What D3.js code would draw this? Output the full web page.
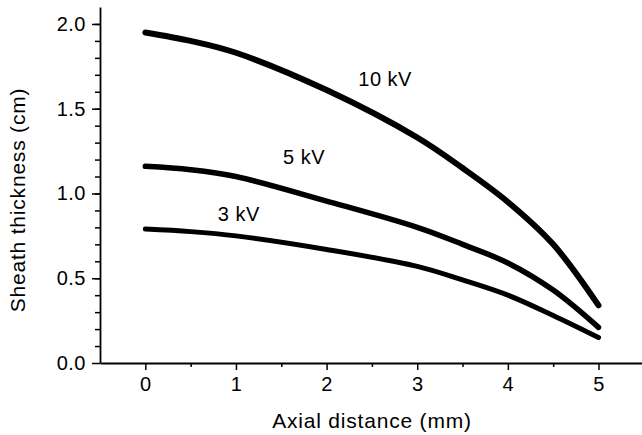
<!DOCTYPE html>
<html>
<head>
<meta charset="utf-8">
<script src="https://cdn.jsdelivr.net/npm/d3@7"></script>
<style>
  body { margin: 0; background: #fff; }
  svg { display: block; font-family: "Liberation Sans", Arial, sans-serif; }
</style>
</head>
<body>
<div id="chart"></div>
<script>
// axial distance (mm)
var distance = [0, 0.5, 1, 2, 3, 3.5, 4, 4.5, 5];
// sheath thickness (cm) for each voltage
var kv10 = [1.95, 1.90, 1.83, 1.61, 1.33, 1.15, 0.95, 0.70, 0.34];
var kv5  = [1.16, 1.14, 1.10, 0.955, 0.80, 0.70, 0.59, 0.43, 0.21];
var kv3  = [0.79, 0.775, 0.75, 0.67, 0.57, 0.49, 0.40, 0.28, 0.15];
var seriesNames = ["10 kV", "5 kV", "3 kV"];
var xMajor = [0, 1, 2, 3, 4, 5];
var xMinor = [0.5, 1.5, 2.5, 3.5, 4.5];
var yMajor = [0, 0.5, 1.0, 1.5, 2.0];

var width = 642,
    height = 435;

var svg = d3.select("#chart").append("svg")
    .attr("width", width)
    .attr("height", height);

var x = d3.scaleLinear().domain([-0.5, 5.48]).range([100, 642]);
var y = d3.scaleLinear().domain([0, 2.1]).range([363, 7]);

// minor ticks first
svg.append("g")
    .attr("transform", "translate(100,0)")
    .call(d3.axisLeft(y).tickValues(d3.range(1, 21).map(function(i) { return i / 10; }))
        .tickSize(5).tickFormat(""))
    .call(function(g) { g.select(".domain").remove(); })
    .selectAll("line").attr("stroke-width", 1.5);

svg.append("g")
    .attr("transform", "translate(0,363)")
    .call(d3.axisBottom(x).tickValues(xMinor).tickSize(4).tickFormat(""))
    .call(function(g) { g.select(".domain").remove(); })
    .selectAll("line").attr("stroke-width", 1.5);

// major axes
var yAxis = svg.append("g")
    .attr("transform", "translate(100,0)")
    .call(d3.axisLeft(y).tickValues(yMajor).tickSize(8).tickSizeOuter(0)
        .tickPadding(6).tickFormat(d3.format(".1f")));

var xAxis = svg.append("g")
    .attr("transform", "translate(0,363)")
    .call(d3.axisBottom(x).tickValues(xMajor).tickSize(7).tickSizeOuter(0)
        .tickPadding(7).tickFormat(d3.format("d")));

[yAxis, xAxis].forEach(function(g) {
    g.select(".domain").attr("stroke-width", 1.8);
    g.selectAll("line").attr("stroke-width", 1.5);
    g.selectAll("text").attr("font-size", 20).attr("fill", "#000")
        .attr("letter-spacing", 0.5)
        .attr("font-family", "Liberation Sans, Arial, sans-serif");
});

// axis titles
svg.append("text")
    .attr("x", 372)
    .attr("y", 428)
    .attr("text-anchor", "middle")
    .attr("font-size", 21)
    .attr("letter-spacing", 0.8)
    .text("Axial distance (mm)");

svg.append("text")
    .attr("transform", "translate(25,200)rotate(-90)")
    .attr("text-anchor", "middle")
    .attr("font-size", 21)
    .attr("letter-spacing", 0.8)
    .text("Sheath thickness (cm)");

// curves
var line = d3.line()
    .x(function(d) { return x(d[0]); })
    .y(function(d) { return y(d[1]); })
    .curve(d3.curveCatmullRom);

var series = [kv10, kv5, kv3];
var widths = [6, 5.5, 5];

series.forEach(function(vals, i) {
    svg.append("path")
        .datum(distance.map(function(d, j) { return [d, vals[j]]; }))
        .attr("d", line)
        .attr("fill", "none")
        .attr("stroke", "#000")
        .attr("stroke-width", widths[i])
        .attr("stroke-linecap", "round");
});

// curve labels
var labelPos = [[2.35, 1.634], [1.52, 1.174], [0.80, 0.838]];
seriesNames.forEach(function(name, i) {
    svg.append("text")
        .attr("x", x(labelPos[i][0]))
        .attr("y", y(labelPos[i][1]))
        .attr("font-size", 20)
        .attr("letter-spacing", 0.5)
        .text(name);
});
</script>
</body>
</html>
